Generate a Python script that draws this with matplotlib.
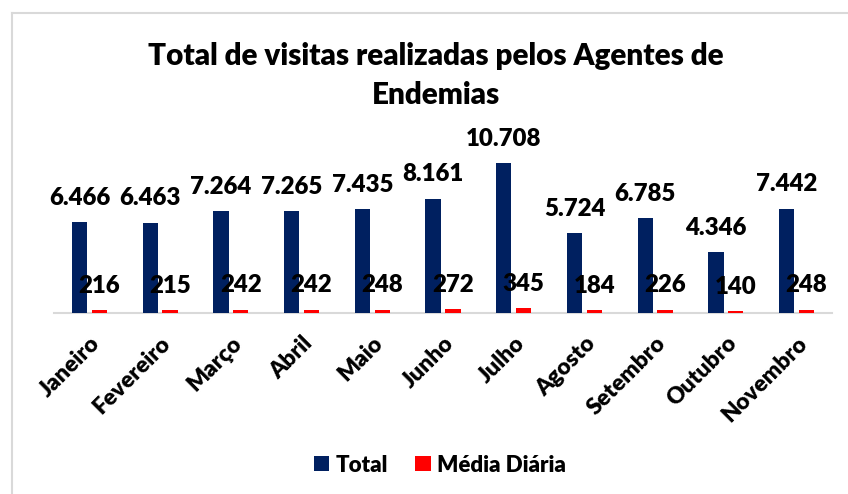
import matplotlib.pyplot as plt
import numpy as np
from matplotlib.lines import Line2D

meses = ['Janeiro', 'Fevereiro', 'Março', 'Abril', 'Maio', 'Junho', 'Julho',
         'Agosto', 'Setembro', 'Outubro', 'Novembro']
total = [6466, 6463, 7264, 7265, 7435, 8161, 10708, 5724, 6785, 4346, 7442]
media_diaria = [216, 215, 242, 242, 248, 272, 345, 184, 226, 140, 248]
rotulos_total = ['6.466', '6.463', '7.264', '7.265', '7.435', '8.161', '10.708',
                 '5.724', '6.785', '4.346', '7.442']
rotulos_media = [str(v) for v in media_diaria]

peso = 'heavy'
plt.rcParams['font.family'] = ['Lato', 'DejaVu Sans']
plt.rcParams['font.weight'] = peso

azul = '#002060'
vermelho = '#FF0000'
cinza = '#d9d9d9'

fig = plt.figure(figsize=(8.48, 4.94), dpi=100)
ax = fig.add_axes([54 / 848, 181 / 494, 778 / 848, 168 / 494])

x = np.arange(len(meses))
larg = 0.215
desl = 0.14
b1 = ax.bar(x - desl, total, larg, color=azul, label='Total', zorder=3)
b2 = ax.bar(x + desl, media_diaria, larg, color=vermelho, label='Média Diária', zorder=3)

for rect, txt in zip(b1, rotulos_total):
    ax.annotate(txt, (rect.get_x() + rect.get_width() / 2, rect.get_height()),
                xytext=(0, 12.5), textcoords='offset points', ha='center',
                va='baseline', fontsize=17.3, fontweight=peso)
for rect, txt in zip(b2, rotulos_media):
    ax.annotate(txt, (rect.get_x() + rect.get_width() / 2, rect.get_height()),
                xytext=(0, 12.5), textcoords='offset points', ha='center',
                va='baseline', fontsize=17.3, fontweight=peso)

ax.set_xlim(-0.5, len(meses) - 0.5)
ax.set_ylim(0, 12000)
ax.set_yticks([])
ax.set_xticks(x)
ax.set_xticklabels(meses, rotation=45, ha='right', rotation_mode='anchor',
                   fontsize=16.5, fontweight=peso)
ax.tick_params(axis='x', length=0, pad=14)
for s in ['top', 'right', 'left']:
    ax.spines[s].set_visible(False)
ax.spines['bottom'].set_color(cinza)
ax.spines['bottom'].set_linewidth(1.5)
ax.spines['bottom'].set_zorder(1)

fig.text(436 / 848, 1 - 56 / 494, 'Total de visitas realizadas pelos Agentes de',
         ha='center', va='center', fontsize=21.3, fontweight=peso)
fig.text(436 / 848, 1 - 95 / 494, 'Endemias',
         ha='center', va='center', fontsize=21.3, fontweight=peso)

fig.legend(handles=[b1, b2], loc='center', bbox_to_anchor=(440 / 848, 1 - 465 / 494),
           ncol=2, frameon=False, fontsize=16, handlelength=0.7, handleheight=0.7,
           handletextpad=0.3, columnspacing=1.2)

# moldura do gráfico
fig.add_artist(Line2D([11.5 / 848, 11.5 / 848], [0, 1 - 13 / 494], color=cinza,
                      lw=1.5, transform=fig.transFigure))
fig.add_artist(Line2D([11.5 / 848, 1], [1 - 13 / 494, 1 - 13 / 494], color=cinza,
                      lw=1.5, transform=fig.transFigure))

plt.savefig('out.png', dpi=100)
plt.close()
